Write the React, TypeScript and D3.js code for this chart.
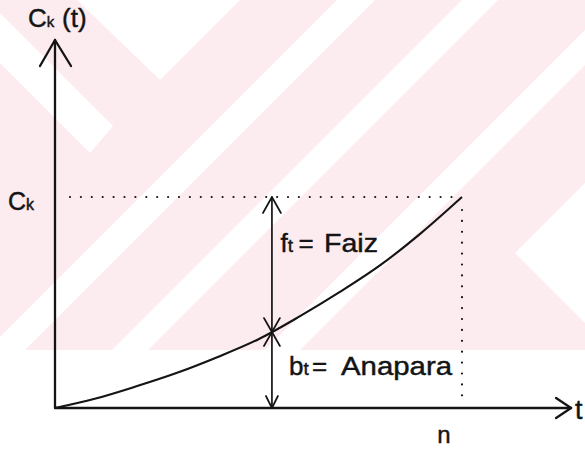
import React from 'react';
import * as d3 from 'd3';

const W = 585;
const H = 452;

// Curve: t in periods (n = 10), C_k(t) in % of C_k
const tValues = [0, 1, 2, 3, 4, 5, 6, 7, 8, 9, 10];
const ckValues = [0, 4.5, 10.3, 16.7, 24.2, 32.6, 43.3, 55, 67.8, 83, 100];
const nPeriod = 10;
const ckLevel = 100;
const markT = 5.33;
const markValue = 36;
const xAxisEnd = 12.68;
const yAxisEnd = 174.4;

const yTitleMain = 'C';
const yTitleSub = 'k';
const yTitleTail = '(t)';
const ckLabelMain = 'C';
const ckLabelSub = 'k';
const faizMain = 'f';
const faizSub = 't';
const faizText = 'Faiz';
const anaMain = 'b';
const anaSub = 't';
const anaText = 'Anapara';
const nLabel = 'n';
const tLabel = 't';

const PINK = '#fdecef';
const INK = '#141414';
const FONT = "'Liberation Sans', Arial, Helvetica, sans-serif";

function band(a: number, b: number) {
  // white diagonal "/" band where a <= x + y <= b
  return `M${a},0 L${b},0 L${b - 500},500 L${a - 500},500 Z`;
}

export default function App() {
  const x = d3.scaleLinear().domain([0, nPeriod]).range([55, 462]);
  const y = d3.scaleLinear().domain([0, ckLevel]).range([408, 197]);

  const pts: [number, number][] = tValues.map((t, i) => [t, ckValues[i]]);
  const line = d3
    .line<[number, number]>()
    .x((d) => x(d[0]))
    .y((d) => y(d[1]))
    .curve(d3.curveMonotoneX);

  const x0 = x(0);
  const y0 = y(0);
  const xEnd = x(xAxisEnd);
  const yTop = y(yAxisEnd);
  const xn = x(nPeriod);
  const yc = y(ckLevel);
  const xm = x(markT);
  const ym = y(markValue);

  return (
    <svg
      width={W}
      height={H}
      viewBox={`0 0 ${W} ${H}`}
      style={{ position: 'absolute', left: 0, top: 0, display: 'block' }}
      fontFamily={FONT}
    >
      <defs>
        <clipPath id="wm">
          <rect x={0} y={0} width={W} height={350} />
        </clipPath>
      </defs>
      <rect x={0} y={0} width={W} height={H} fill="#fff" />
      {/* watermark */}
      <g clipPath="url(#wm)">
        <rect x={0} y={0} width={W} height={350} fill={PINK} />
        <path d="M0,13 L113,126 L90,153 L0,63 Z" fill="#fff" />
        <path d="M77,0 L160,80 L240,0 Z" fill="#fff" />
        <path d={band(337, 375)} fill="#fff" />
        <path d={band(462, 498)} fill="#fff" />
        <path d={band(615, 650)} fill="#fff" />
        <path d="M515,253 L600,168 L600,338 Z" fill="#fff" />
      </g>

      {/* dotted guides */}
      <line x1={70} y1={yc} x2={xn} y2={yc} stroke={INK} strokeWidth={2.2} strokeDasharray="0 10.9" strokeLinecap="round" />
      <line x1={xn} y1={yc + 13} x2={xn} y2={y0 - 9} stroke={INK} strokeWidth={2.2} strokeDasharray="0 10.9" strokeLinecap="round" />

      {/* axes */}
      <g stroke={INK} strokeWidth={2.3} fill="none" strokeLinecap="round" strokeLinejoin="round">
        <line x1={x0} y1={y0} x2={x0} y2={yTop} />
        <polyline points={`${x0 - 15},${yTop + 26} ${x0},${yTop} ${x0 + 16},${yTop + 26}`} />
        <line x1={x0} y1={y0} x2={xEnd} y2={y0} />
        <polyline points={`${xEnd - 15},${y0 - 10} ${xEnd},${y0} ${xEnd - 15},${y0 + 10}`} />
      </g>

      {/* curve */}
      <path d={line(pts) || ''} fill="none" stroke={INK} strokeWidth={2.1} />

      {/* double arrows */}
      <g stroke={INK} strokeWidth={1.7} fill="none" strokeLinecap="round" strokeLinejoin="round">
        <line x1={xm} y1={yc} x2={xm} y2={y0} />
        <polyline points={`${xm - 9},${yc + 16} ${xm},${yc} ${xm + 9},${yc + 16}`} />
        <polyline points={`${xm - 8},${ym - 14} ${xm},${ym} ${xm + 8},${ym - 14}`} />
        <polyline points={`${xm - 8},${ym + 14} ${xm},${ym} ${xm + 8},${ym + 14}`} />
        <polyline points={`${xm - 6},${y0 - 12} ${xm},${y0} ${xm + 6},${y0 - 12}`} />
      </g>

      {/* texts */}
      <g fill={INK} stroke={INK} strokeWidth={0.45}>
        <text y={27} fontSize={26}>
          <tspan x={28}>{yTitleMain}</tspan>
          <tspan fontSize={15}>{yTitleSub}</tspan>
          <tspan x={62}>{yTitleTail}</tspan>
        </text>
        <text y={210} fontSize={25}>
          <tspan x={8}>{ckLabelMain}</tspan>
          <tspan fontSize={16}>{ckLabelSub}</tspan>
        </text>
        <text y={252} fontSize={26}>
          <tspan x={280.5}>{faizMain}</tspan>
          <tspan fontSize={19}>{faizSub}</tspan>
          <tspan x={298.5}>=</tspan>
          <tspan x={324} textLength={54} lengthAdjust="spacingAndGlyphs">{faizText}</tspan>
        </text>
        <text y={375} fontSize={26}>
          <tspan x={289}>{anaMain}</tspan>
          <tspan fontSize={19}>{anaSub}</tspan>
          <tspan x={312}>=</tspan>
          <tspan x={341} textLength={111} lengthAdjust="spacingAndGlyphs">{anaText}</tspan>
        </text>
        <text x={444} y={443} fontSize={24} textAnchor="middle">{nLabel}</text>
        <text x={575} y={419} fontSize={27}>{tLabel}</text>
      </g>
    </svg>
  );
}
